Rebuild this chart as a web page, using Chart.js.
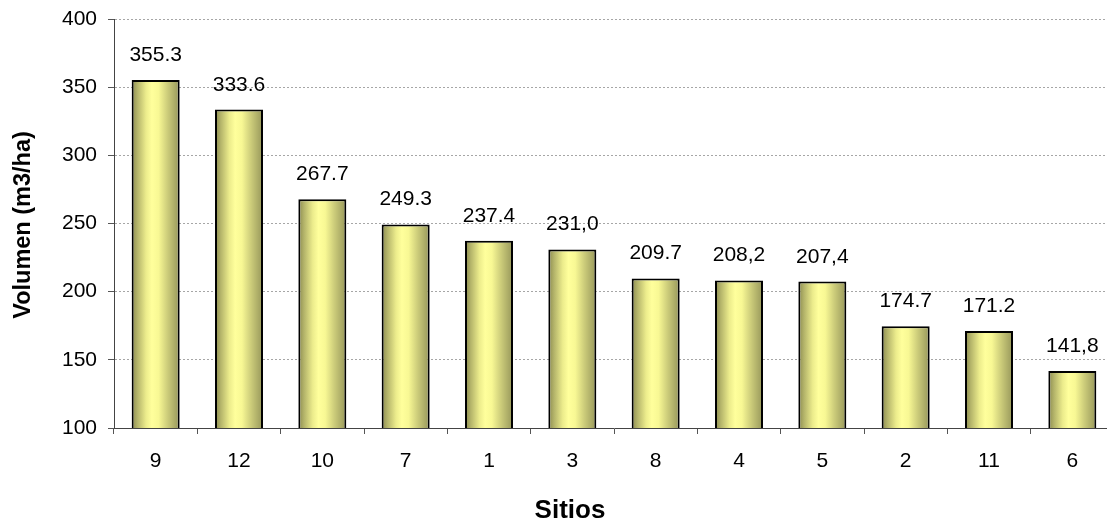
<!DOCTYPE html>
<html>
<head>
<meta charset="utf-8">
<script src="https://cdn.jsdelivr.net/npm/chart.js@4.4.0/dist/chart.umd.min.js"></script>
<style>
  html, body { margin: 0; padding: 0; background: #fff; overflow: hidden; }
  #wrap { width: 1116px; height: 524px; }
</style>
</head>
<body>
<div id="wrap"><canvas id="c" width="1116" height="524"></canvas></div>
<script>
// Sites ordered by stand volume
const sitios = ['9', '12', '10', '7', '1', '3', '8', '4', '5', '2', '11', '6'];
const volumenTexto = ['355.3', '333.6', '267.7', '249.3', '237.4', '231,0', '209.7', '208,2', '207,4', '174.7', '171.2', '141,8'];
const volumen = volumenTexto.map(t => parseFloat(t.replace(',', '.')));
const yTicks = [100, 150, 200, 250, 300, 350, 400];

const FONT = '"Liberation Sans", Arial, sans-serif';
const BAR_PCT = 0.576;

// Horizontal shaded fill for each bar
function barFill(ctx) {
  const chart = ctx.chart;
  const xs = chart.scales.x;
  if (!xs || ctx.dataIndex === undefined) return '#f4f490';
  const cx = xs.getPixelForValue(ctx.dataIndex);
  const w = (xs.width / sitios.length) * BAR_PCT;
  if (!isFinite(cx) || !isFinite(w) || w <= 0) return '#f4f490';
  const g = chart.ctx.createLinearGradient(cx - w / 2, 0, cx + w / 2, 0);
  g.addColorStop(0.00, '#8a8a50');
  g.addColorStop(0.12, '#b4b46a');
  g.addColorStop(0.30, '#ecec8c');
  g.addColorStop(0.42, '#ffff9c');
  g.addColorStop(0.56, '#f8f894');
  g.addColorStop(0.75, '#cccc7a');
  g.addColorStop(1.00, '#96965a');
  return g;
}

// Value labels above the bars, plus the axis titles
const annotations = {
  id: 'annotations',
  afterDatasetsDraw(chart) {
    const c = chart.ctx;
    const meta = chart.getDatasetMeta(0);
    c.save();
    c.fillStyle = '#000';
    c.font = '21px ' + FONT;
    c.textAlign = 'center';
    c.textBaseline = 'alphabetic';
    meta.data.forEach((bar, i) => {
      c.fillText(volumenTexto[i], bar.x, bar.y - 19);
    });
    c.font = 'bold 26px ' + FONT;
    c.fillText('Sitios', 570, 518);
    c.translate(30, 225);
    c.rotate(-Math.PI / 2);
    c.font = 'bold 23.5px ' + FONT;
    c.fillText('Volumen (m3/ha)', 0, 0);
    c.restore();
  }
};

new Chart(document.getElementById('c'), {
  type: 'bar',
  data: {
    labels: sitios,
    datasets: [{
      data: volumen,
      backgroundColor: barFill,
      borderColor: '#000',
      borderWidth: 2,
      borderSkipped: 'bottom',
      categoryPercentage: 1,
      barPercentage: BAR_PCT
    }]
  },
  options: {
    responsive: false,
    animation: false,
    events: [],
    layout: { padding: { top: 19, right: 2, left: 0, bottom: 0 } },
    plugins: { legend: { display: false }, tooltip: { enabled: false }, title: { display: false } },
    scales: {
      x: {
        afterFit(s) { s.height = 96; s.paddingLeft = 0; s.paddingRight = 0; },
        grid: { offset: true, drawOnChartArea: false, drawTicks: true, tickLength: 6, tickColor: '#555', tickWidth: 1 },
        border: { display: true, color: '#444', width: 1 },
        ticks: { color: '#000', font: { family: FONT, size: 21 }, padding: 15, maxRotation: 0, autoSkip: false }
      },
      y: {
        min: 100,
        max: 400,
        afterFit(s) { s.width = 114; s.paddingTop = 0; s.paddingBottom = 0; },
        afterBuildTicks(s) { s.ticks = yTicks.map(v => ({ value: v })); },
        grid: {
          color: (ctx) => (ctx.tick && ctx.tick.value === 100 ? 'rgba(0,0,0,0)' : '#a6a6a6'),
          lineWidth: 1,
          drawTicks: true,
          tickLength: 6,
          tickColor: '#555',
          tickBorderDash: []
        },
        border: { display: true, color: '#444', width: 1, dash: [2, 2] },
        ticks: { color: '#000', font: { family: FONT, size: 21 }, padding: 11 }
      }
    }
  },
  plugins: [annotations]
});
</script>
</body>
</html>
